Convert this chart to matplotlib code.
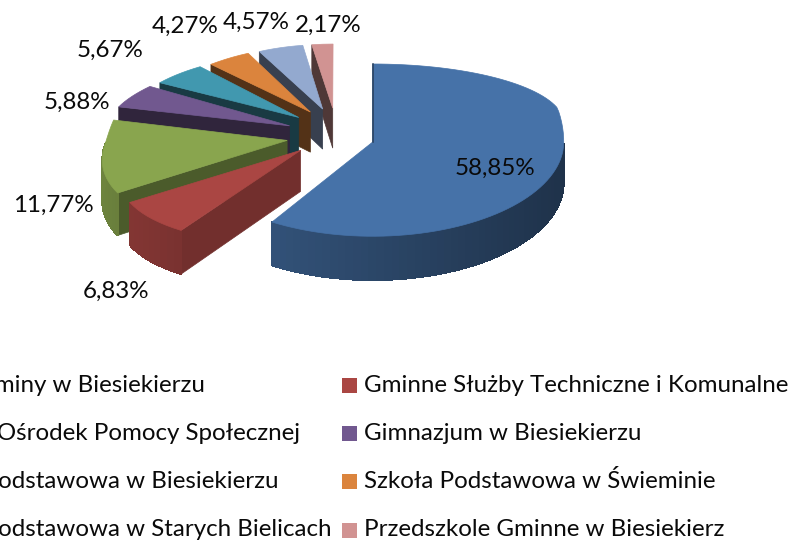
import numpy as np
import matplotlib
matplotlib.use('Agg')
import matplotlib.pyplot as plt
from matplotlib.patches import Polygon, Rectangle
from matplotlib.colors import to_rgb

# data
names = ['Urząd Gminy w Biesiekierzu', 'Gminne Służby Techniczne i Komunalne',
         'Gminny Ośrodek Pomocy Społecznej', 'Gimnazjum w Biesiekierzu',
         'Szkoła Podstawowa w Biesiekierzu', 'Szkoła Podstawowa w Świeminie',
         'Szkoła Podstawowa w Starych Bielicach', 'Przedszkole Gminne w Biesiekierz']
values = [58.85, 6.83, 11.77, 5.88, 5.67, 4.27, 4.57, 2.17]
colors = ['#4672A8', '#AA4643', '#89A54E', '#71588F', '#4198AF', '#DB843D', '#93A9CF', '#D19392']

# layout of the labels, pixels
label_x = [495, 116, 53, 77, 110, 185, 256, 328]
label_y = [168, 291, 205, 102, 50, 26, 22, 25]

plt.rcParams['font.family'] = ['Lato', 'DejaVu Sans']
FS = 17.4

# fake 3d projection: ground coordinates in radii (Y is toward the viewer) to pixels
CX, RX, EXPLODE = 336.0, 191.0, 0.2
Y_IN = [-1.2, -0.945, -0.2, 0.055, 0.904, 1.2]
Y_OUT = [44, 64, 108, 142, 222, 250]
S_IN = [-1.2, -0.63, 0, 0.7, 1.0]
S_OUT = [0.87, 0.91, 1, 1.12, 1.2]


def project(X, Y, flat=False):
	s = 1.0 if flat else np.interp(Y, S_IN, S_OUT)
	return CX + RX*X*s, np.interp(Y, Y_IN, Y_OUT)


def depth(Y):
	return np.interp(Y, [-1.2, 1.1], [37, 44])


def shade(color, f):
	return tuple(c*f for c in to_rgb(color))


def drawSlice(ax, start, end, color, flat):
	''' one exploded slice: the walls that face us, then the top '''
	mid = (start+end)/2
	ex_x, r_x = (EXPLODE, 1.0) if flat else (0.26, 0.94)
	ax0 = ex_x*np.sin(mid)
	ay0 = -EXPLODE*np.cos(mid)
	n = max(int((end-start)/0.04), 2)
	th = np.linspace(start, end, n)
	X = ax0 + r_x*np.sin(th)
	Y = ay0 - np.cos(th)
	px, py = project(X, Y, flat)
	apx, apy = project(ax0, ay0, flat)

	# radial walls, lighter when they turn to the front
	wall_f = np.interp(np.degrees(start), [212, 236, 279, 300], [0.67, 0.55, 0.42, 0.38])
	for t, ex, ey, vis in [(start, px[0], py[0], np.sin(start) < -1e-6),
						   (end, px[-1], py[-1], np.sin(end) > 1e-6)]:
		if vis:
			wall = [(apx, apy), (ex, ey), (ex, ey+depth(ay0-np.cos(t))), (apx, apy+depth(ay0))]
			ax.add_patch(Polygon(wall, closed=True, fc=shade(color, wall_f), ec=shade(color, wall_f), lw=0.5))

	# outer rim, only the part turned to the viewer
	for i in range(n-1):
		tm = (th[i]+th[i+1])/2
		if np.pi/2 < tm < 3*np.pi/2:
			f = 0.62 - 0.18*np.sin(tm)
			quad = [(px[i], py[i]), (px[i+1], py[i+1]),
					(px[i+1], py[i+1]+depth(Y[i+1])), (px[i], py[i]+depth(Y[i]))]
			ax.add_patch(Polygon(quad, closed=True, fc=shade(color, f), ec=shade(color, f), lw=0.6, antialiased=False))

	top = [(apx, apy)] + list(zip(px, py))
	ax.add_patch(Polygon(top, closed=True, fc=color, ec=color, lw=0.5))
	if flat:
		# thin sliver of the back wall on the big slice
		ax.plot([px[0], apx], [py[0], apy], color=shade(color, 0.55), lw=1.1)


fig = plt.figure(figsize=(7.93, 5.42), dpi=100)
ax = fig.add_axes([0, 0, 1, 1])
ax.set_xlim(0, 793)
ax.set_ylim(542, 0)
ax.axis('off')

edges = np.cumsum([0]+values)/sum(values)*2*np.pi
for i in range(len(values)-1, -1, -1):
	drawSlice(ax, edges[i], edges[i+1], colors[i], i == 0)

for i, v in enumerate(values):
	txt = ('%.2f%%' % v).replace('.', ',')
	ax.text(label_x[i], label_y[i], txt, ha='center', va='center', fontsize=FS, color='#0a0a0a')

# legend, the left column runs off the picture
col_x = [-114, 342]
row_y = [385, 433, 481, 530]
for i, name in enumerate(names):
	x = col_x[i % 2]
	y = row_y[i//2]
	ax.add_patch(Rectangle((x, y-7.5), 15, 15, fc=colors[i], ec='none'))
	ax.text(x+(22 if i % 2 else 22), y, name, ha='left', va='center', fontsize=FS, color='#0a0a0a')

fig.savefig('out.png', dpi=100)
